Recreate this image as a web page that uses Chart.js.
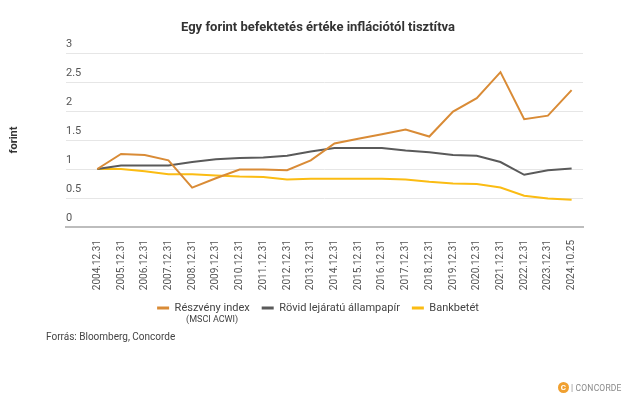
<!DOCTYPE html>
<html>
<head>
<meta charset="utf-8">
<script src="https://cdn.jsdelivr.net/npm/chart.js@4"></script>
<style>
  html, body { margin: 0; padding: 0; background: #fff; }
  #wrap { position: relative; width: 640px; height: 402px; font-family: Roboto, sans-serif; }
  #forras { position: absolute; left: 46px; top: 331px; font-size: 10px; color: #444; }
  #logo { position: absolute; left: 558px; top: 382px; font-size: 8.5px; color: #888; display: flex; align-items: center; letter-spacing: 0.2px; }
  #logo .c { width: 11px; height: 11px; border-radius: 50%; background: #f0a030; color: #fff; font-size: 8px; font-weight: bold; display: inline-flex; align-items: center; justify-content: center; margin-right: 2px; }
</style>
</head>
<body>
<div id="wrap">
  <canvas id="grafikon" width="640" height="402"></canvas>
  <div id="forras">Forrás: Bloomberg, Concorde</div>
  <div id="logo"><span class="c">C</span>| CONCORDE</div>
</div>
<script>
// Adatok
const datumok = ['2004.12.31', '2005.12.31', '2006.12.31', '2007.12.31', '2008.12.31', '2009.12.31',
  '2010.12.31', '2011.12.31', '2012.12.31', '2013.12.31', '2014.12.31', '2015.12.31', '2016.12.31',
  '2017.12.31', '2018.12.31', '2019.12.31', '2020.12.31', '2021.12.31', '2022.12.31', '2023.12.31', '2024.10.25'];
const reszveny = [1.00, 1.26, 1.24, 1.15, 0.68, 0.84, 0.99, 0.99, 0.98, 1.15, 1.44, 1.52, 1.60, 1.68, 1.56, 1.99, 2.22, 2.67, 1.86, 1.92, 2.36];
const allampapir = [1.00, 1.06, 1.06, 1.06, 1.12, 1.17, 1.19, 1.20, 1.23, 1.30, 1.36, 1.36, 1.36, 1.32, 1.29, 1.24, 1.23, 1.12, 0.90, 0.98, 1.01];
const bankbetet = [1.00, 1.00, 0.96, 0.91, 0.91, 0.89, 0.87, 0.86, 0.82, 0.83, 0.83, 0.83, 0.83, 0.82, 0.78, 0.75, 0.74, 0.68, 0.54, 0.49, 0.47];
const yTickek = [0, 0.5, 1, 1.5, 2, 2.5, 3];

const pontok = arr => arr.map((v, i) => ({ x: i, y: v }));

// Tengelycím + alcím a legenda első eleme alá
const extraPlugin = {
  id: 'extra',
  afterDraw(chart) {
    const ctx = chart.ctx;
    const ca = chart.chartArea;
    ctx.save();
    ctx.translate(14, (ca.top + ca.bottom) / 2);
    ctx.rotate(-Math.PI / 2);
    ctx.font = "bold 11px Roboto";
    ctx.fillStyle = "#333";
    ctx.textAlign = "center";
    ctx.textBaseline = "middle";
    ctx.fillText('forint', 0, 0);
    ctx.restore();

    const boxes = chart.legend.legendHitBoxes;
    if (!boxes || !boxes.length) return;
    const b = boxes[0];
    ctx.save();
    ctx.font = "11px Roboto";
    const w = ctx.measureText('Részvény index').width;
    const cx = b.left + 12 + 5.5 + w / 2;
    ctx.font = "9px Roboto";
    ctx.fillStyle = "#444";
    ctx.textAlign = "center";
    ctx.textBaseline = "top";
    ctx.fillText('(MSCI ACWI)', cx, b.top + b.height + 2);
    ctx.restore();
  }
};

const sorozat = (label, data, color) => ({
  label, data: pontok(data), borderColor: color, backgroundColor: color,
  borderWidth: 2, pointRadius: 0, tension: 0
});

new Chart(document.getElementById('grafikon'), {
  type: 'line',
  data: {
    datasets: [
      sorozat('Részvény index', reszveny, '#d98b36'),
      sorozat('Rövid lejáratú állampapír', allampapir, '#5a5a5a'),
      sorozat('Bankbetét', bankbetet, '#fbbc13')
    ]
  },
  options: {
    responsive: false,
    animation: false,
    layout: { padding: { left: 53, right: 57, bottom: 78.5, top: 0 } },
    plugins: {
      title: {
        display: true,
        text: 'Egy forint befektetés értéke inflációtól tisztítva',
        font: { family: 'Roboto', size: 13, weight: 'bold' },
        color: '#333',
        padding: { top: 20, bottom: 17.4 }
      },
      legend: {
        position: 'bottom',
        labels: {
          font: { family: 'Roboto', size: 11 },
          color: '#444',
          boxWidth: 12,
          boxHeight: 3,
          padding: 12,
          generateLabels(chart) {
            return chart.data.datasets.map((ds, i) => ({
              text: ds.label, fillStyle: ds.borderColor, strokeStyle: ds.borderColor,
              lineWidth: 0, datasetIndex: i, fontColor: '#444'
            }));
          }
        }
      },
      tooltip: { enabled: false }
    },
    scales: {
      x: {
        type: 'linear',
        min: -1.32,
        max: 20.48,
        afterFit(axis) { axis.height = 63.5; },
        grid: { display: false },
        border: { display: true, color: '#bdbdbd', width: 2 },
        ticks: {
          stepSize: 1,
          includeBounds: false,
          autoSkip: false,
          minRotation: 90,
          maxRotation: 90,
          padding: 5,
          color: '#555',
          font: { family: 'Roboto', size: 10 },
          callback: v => Number.isInteger(v) && datumok[v] ? datumok[v] : ''
        }
      },
      y: {
        min: 0,
        max: 3,
        afterBuildTicks(axis) { axis.ticks = yTickek.map(v => ({ value: v })); },
        afterFit(axis) { axis.width = 13; },
        grid: { color: '#e6e6e6', drawTicks: false },
        border: { display: false },
        ticks: {
          mirror: true,
          labelOffset: -9,
          padding: 0,
          color: '#555',
          font: { family: 'Roboto', size: 11 },
          callback: v => String(v)
        }
      }
    }
  },
  plugins: [extraPlugin]
});
</script>
</body>
</html>
